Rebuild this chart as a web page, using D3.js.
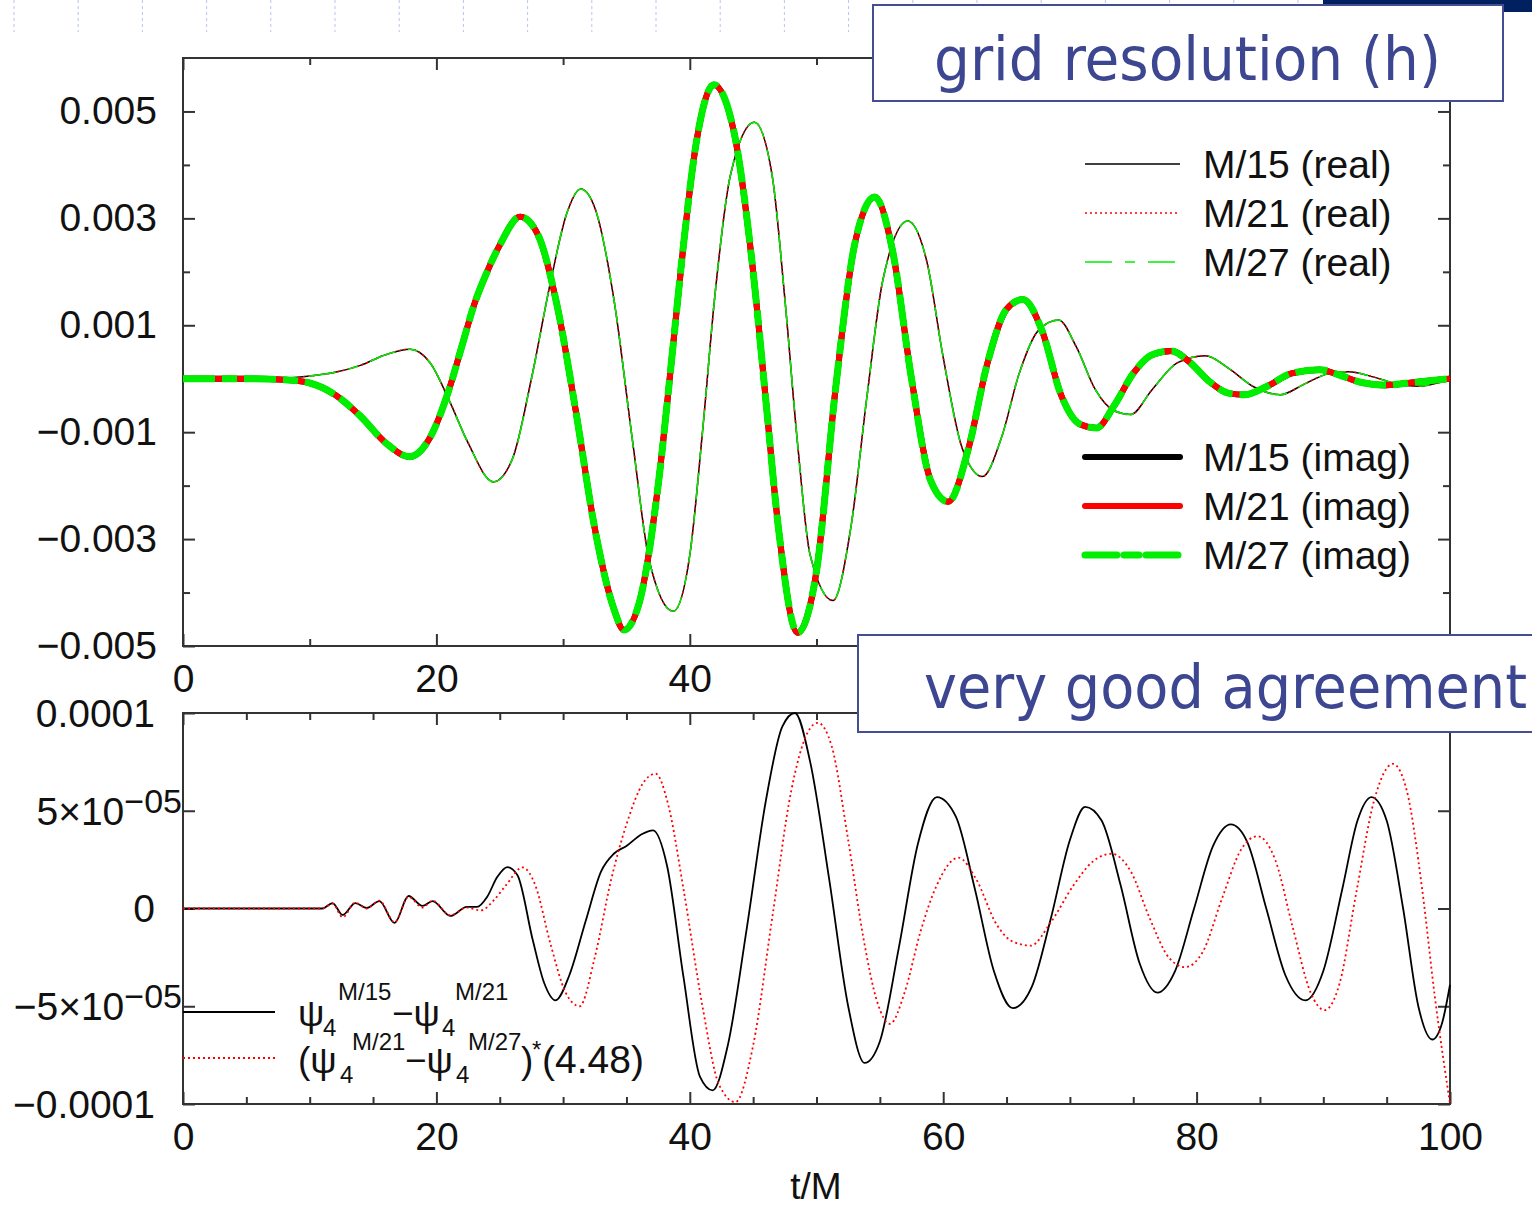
<!DOCTYPE html>
<html>
<head>
<meta charset="utf-8">
<script src="https://cdn.jsdelivr.net/npm/d3@7"></script>
<style>
  html, body { margin: 0; padding: 0; background: #fff; }
  svg { display: block; font-family: "Liberation Sans", Arial, sans-serif; }
  .tick line { stroke: #333; stroke-width: 2; }
  .tick text { fill: #111; font-size: 39px; }
</style>
</head>
<body>
<div id="chart"></div>
<script>
// top panel: psi4 for three resolutions, [t/M, value in units of 1e-3]
const imagM15 = [[0,0],[5,0],[8,-0.02],[10,-0.08],[12,-0.3],[14,-0.7],[16,-1.2],[17.9,-1.46],[19.5,-1.1],[21,-0.2],[22,0.6],[23,1.4],[24,2.0],[25,2.5],[26.6,3.03],[28,2.7],[29.5,1.4],[31,-0.6],[32.5,-2.8],[34,-4.3],[34.8,-4.7],[36,-4.2],[37.5,-2.0],[38.5,0.2],[39.5,2.5],[40.5,4.4],[41.9,5.5],[43.5,4.6],[45,2.0],[46,-0.4],[47,-2.8],[48.5,-4.75],[50,-3.6],[51.5,-0.2],[53,2.5],[54.6,3.4],[56,2.4],[57.5,0.0],[59,-1.9],[60.4,-2.3],[62,-1.3],[63.5,0.3],[65,1.3],[66.3,1.48],[67.8,0.9],[69.3,-0.3],[70.8,-0.85],[72.1,-0.92],[73.5,-0.5],[75,0.1],[76.5,0.45],[78,0.52],[79.5,0.3],[81,-0.05],[82.5,-0.27],[83.8,-0.3],[85.5,-0.15],[87.5,0.1],[89.7,0.17],[91.5,0.05],[93,-0.07],[95,-0.12],[97,-0.07],[100,0.0]];
const realM15 = [[0,0],[8,0.01],[10,0.05],[12,0.12],[14,0.25],[16,0.45],[17.9,0.55],[19.5,0.3],[21,-0.4],[22.5,-1.2],[24.5,-1.93],[26,-1.5],[27.5,0],[29,1.8],[30.3,3.1],[31.4,3.55],[32.5,3.2],[34,1.5],[35.5,-1.2],[36.8,-3.4],[38.7,-4.35],[40,-3.3],[41,-1.0],[42,1.6],[43.2,3.8],[45.1,4.8],[46.5,3.8],[47.5,1.5],[48.5,-1.2],[49.5,-3.3],[51.3,-4.15],[52.7,-2.8],[54,-0.3],[55.2,1.8],[57.2,2.95],[58.7,2.2],[60,0.4],[61.5,-1.3],[63.1,-1.83],[64.6,-1.1],[66,0.1],[67.5,0.9],[69.1,1.1],[70.5,0.6],[72,-0.2],[73.5,-0.6],[74.8,-0.67],[76.5,-0.2],[78.5,0.3],[80.7,0.43],[82.5,0.2],[84.5,-0.15],[86.6,-0.3],[88.5,-0.1],[90.5,0.1],[92,0.13],[94,0.03],[95.5,-0.08],[97.6,-0.14],[99,-0.08],[100,-0.03]];
// the finer grids lie on top of M/15 at this scale
const imagM21 = imagM15, imagM27 = imagM15;
const realM21 = realM15, realM27 = realM15;

// bottom panel: differences, [t/M, value in units of 1e-5]
const diff15_21 = [[0,0],[11,0],[11.8,0.28],[12.6,-0.33],[13.6,0.28],[14.5,0.03],[15.5,0.38],[16.7,-0.74],[17.8,0.64],[18.9,0.13],[19.7,0.38],[21.1,-0.38],[22.4,0.08],[23.2,0.08],[24,0.59],[24.8,1.61],[25.6,2.12],[26.4,1.7],[27.6,-1.6],[28.5,-3.8],[29.4,-4.7],[30.5,-3.4],[31.8,-0.6],[33,1.9],[34,2.8],[35,3.2],[36.2,3.8],[37.1,4.0],[38.2,2.2],[39.5,-3.5],[40.8,-8.6],[41.8,-9.3],[43,-7.0],[44.5,-1],[46,5.5],[47.3,9.3],[48.3,10],[49.5,7.5],[51,1.5],[52.5,-5.0],[53.8,-7.9],[55,-6.8],[56.5,-2.0],[58,3.3],[59.5,5.7],[61,4.7],[62.5,1],[64,-3.2],[65.5,-5.1],[67,-4.0],[68.5,-0.5],[70,3.5],[71.2,5.2],[72.5,4.5],[74,1.2],[75.5,-2.8],[76.9,-4.3],[78.3,-3.2],[79.8,0],[81.3,3.2],[82.7,4.3],[84,3.4],[85.5,0],[87,-3.4],[88.6,-4.7],[90,-3.2],[91.5,1],[92.7,4.5],[93.8,5.7],[95,4.5],[96.3,0],[97.5,-5.0],[98.6,-6.7],[99.4,-5.8],[100,-3.9]];
const diff21_27 = [[0,0],[11,0],[11.8,0.25],[12.6,-0.45],[13.6,0.3],[14.5,0.0],[15.5,0.4],[16.7,-0.7],[17.8,0.6],[18.9,0.05],[19.7,0.4],[21.1,-0.35],[22.4,0.05],[23.5,-0.1],[24.5,0.4],[25.5,1.2],[26.8,2.1],[27.8,1.2],[29,-1.8],[30.2,-4.3],[31.3,-5.0],[32.5,-2.5],[33.8,1.5],[35,4.3],[36.3,6.4],[37.3,6.9],[38.3,5.3],[39.5,1.0],[41,-5],[42.3,-9],[43.6,-9.9],[45,-7],[46.5,-0.5],[48,6],[49.3,9],[50.1,9.5],[51.2,8.3],[52.5,3.5],[53.7,-1.5],[54.8,-4.8],[55.8,-5.9],[57,-4.2],[58.2,-1.2],[59.5,1.2],[61.2,2.6],[62.6,1.5],[64.2,-0.8],[65.5,-1.7],[66.9,-1.9],[68.5,-0.7],[70.3,1.2],[71.8,2.4],[73.3,2.8],[74.8,1.9],[76.3,-0.5],[77.8,-2.5],[79.1,-3.0],[80.5,-2.2],[82,0.5],[83.5,3.0],[84.8,3.7],[86.2,2.5],[87.6,-1],[89,-4.3],[90.1,-5.2],[91.3,-3.8],[92.6,0.8],[94,5.5],[95.5,7.4],[96.6,6.0],[97.8,1.0],[98.8,-4.5],[100,-10]];

const xTicksMajor = [0, 20, 40, 60, 80, 100];
const topXLabelled = [0, 20, 40];          // 60..100 sit under the callout box
const topYLabels = [-0.005, -0.003, -0.001, 0.001, 0.003, 0.005];
const topYMinor = [-0.004, -0.002, 0, 0.002, 0.004];
const botYTicks = [-1e-4, -5e-5, 0, 5e-5, 1e-4];

const W = 1532, H = 1206;
const svg = d3.select("#chart").append("svg").attr("width", W).attr("height", H);

// faint dashed slide guides along the top edge
svg.append("g").selectAll("line")
  .data(d3.range(14, 1330, 64.2))
  .enter().append("line")
  .attr("x1", d => d).attr("x2", d => d)
  .attr("y1", 0).attr("y2", 32)
  .attr("stroke", "#b9c3f3").attr("stroke-width", 1)
  .attr("stroke-dasharray", "3,3");

const x = d3.scaleLinear().domain([0, 100]).range([183, 1450]);
const yTop = d3.scaleLinear().domain([-0.005, 0.006]).range([646, 58]);
const yBot = d3.scaleLinear().domain([-1e-4, 1e-4]).range([1104, 713]);

function frame(y) {
  const [y0, y1] = y.range();
  svg.append("rect")
    .attr("x", x(0)).attr("y", y1)
    .attr("width", x(100) - x(0)).attr("height", y0 - y1)
    .attr("fill", "none").attr("stroke", "#333").attr("stroke-width", 2);
}

function ticks(g, axis) {
  g.call(axis);
  g.select(".domain").remove();
}

// ---- top panel ----
frame(yTop);
ticks(svg.append("g").attr("transform", `translate(0,${yTop(-0.005)})`),
  d3.axisBottom(x).tickValues(topXLabelled).tickSize(-12).tickPadding(18).tickFormat(d3.format("d")));
ticks(svg.append("g").attr("transform", `translate(0,${yTop(-0.005)})`),
  d3.axisBottom(x).tickValues([60, 80, 100]).tickSize(-12).tickFormat(""));
ticks(svg.append("g").attr("transform", `translate(0,${yTop(-0.005)})`),
  d3.axisBottom(x).tickValues([10, 30, 50, 70, 90]).tickSize(-7).tickFormat(""));
ticks(svg.append("g").attr("transform", `translate(0,${yTop(0.006)})`),
  d3.axisTop(x).tickValues(xTicksMajor).tickSize(-12).tickFormat(""));
ticks(svg.append("g").attr("transform", `translate(0,${yTop(0.006)})`),
  d3.axisTop(x).tickValues([10, 30, 50, 70, 90]).tickSize(-7).tickFormat(""));
ticks(svg.append("g").attr("transform", `translate(${x(0)},0)`),
  d3.axisLeft(yTop).tickValues(topYLabels).tickSize(-12).tickPadding(26)
    .tickFormat(d => d3.format(".3f")(d).replace("-", "\u2212")));
ticks(svg.append("g").attr("transform", `translate(${x(0)},0)`),
  d3.axisLeft(yTop).tickValues(topYMinor).tickSize(-7).tickFormat(""));
ticks(svg.append("g").attr("transform", `translate(${x(100)},0)`),
  d3.axisRight(yTop).tickValues(topYLabels).tickSize(-12).tickFormat(""));
ticks(svg.append("g").attr("transform", `translate(${x(100)},0)`),
  d3.axisRight(yTop).tickValues(topYMinor).tickSize(-7).tickFormat(""));

const lineTop = d3.line().x(d => x(d[0])).y(d => yTop(d[1] * 1e-3)).curve(d3.curveMonotoneX);
const lineBot = d3.line().x(d => x(d[0])).y(d => yBot(d[1] * 1e-5)).curve(d3.curveMonotoneX);

const topSeries = [
  { data: realM15, color: "#000", width: 1.5, dash: null },
  { data: realM21, color: "#ff0000", width: 1.5, dash: "2,3" },
  { data: realM27, color: "#00ee00", width: 1.5, dash: "27,13,10,13" },
  { data: imagM15, color: "#000", width: 6, dash: null },
  { data: imagM21, color: "#ff0000", width: 6, dash: null },
  { data: imagM27, color: "#00ee00", width: 7, dash: "32,7,15,7" }
];
topSeries.forEach(s => {
  svg.append("path").datum(s.data)
    .attr("d", lineTop)
    .attr("fill", "none")
    .attr("stroke", s.color)
    .attr("stroke-width", s.width)
    .attr("stroke-dasharray", s.dash)
    .attr("stroke-linejoin", "round");
});

// legend, top panel
const legTop = [
  { y: 164, label: "M/15 (real)", s: topSeries[0] },
  { y: 213, label: "M/21 (real)", s: topSeries[1] },
  { y: 262, label: "M/27 (real)", s: topSeries[2] },
  { y: 457, label: "M/15 (imag)", s: topSeries[3] },
  { y: 506, label: "M/21 (imag)", s: topSeries[4] },
  { y: 555, label: "M/27 (imag)", s: topSeries[5] }
];
legTop.forEach(l => {
  svg.append("line")
    .attr("x1", 1085).attr("x2", 1180).attr("y1", l.y).attr("y2", l.y)
    .attr("stroke", l.s.color).attr("stroke-width", l.s.width)
    .attr("stroke-dasharray", l.s.dash)
    .attr("stroke-linecap", l.s.width > 3 ? "round" : "butt");
  svg.append("text")
    .attr("x", 1203).attr("y", l.y).attr("dy", "0.35em")
    .attr("font-size", 39).attr("fill", "#111")
    .text(l.label);
});

// ---- bottom panel ----
frame(yBot);
const minorBot = d3.range(5, 100, 5).filter(d => d % 20 !== 0);
ticks(svg.append("g").attr("transform", `translate(0,${yBot(-1e-4)})`),
  d3.axisBottom(x).tickValues(xTicksMajor).tickSize(-12).tickPadding(18).tickFormat(d3.format("d")));
ticks(svg.append("g").attr("transform", `translate(0,${yBot(-1e-4)})`),
  d3.axisBottom(x).tickValues(minorBot).tickSize(-7).tickFormat(""));
ticks(svg.append("g").attr("transform", `translate(0,${yBot(1e-4)})`),
  d3.axisTop(x).tickValues(xTicksMajor).tickSize(-12).tickFormat(""));
ticks(svg.append("g").attr("transform", `translate(0,${yBot(1e-4)})`),
  d3.axisTop(x).tickValues(minorBot).tickSize(-7).tickFormat(""));
ticks(svg.append("g").attr("transform", `translate(${x(0)},0)`),
  d3.axisLeft(yBot).tickValues(botYTicks).tickSize(-12).tickFormat(""));
ticks(svg.append("g").attr("transform", `translate(${x(100)},0)`),
  d3.axisRight(yBot).tickValues(botYTicks).tickSize(-12).tickFormat(""));
svg.selectAll(".tick text").attr("fill", "#111");

// bottom y labels with exponents
const botLab = svg.append("g").attr("font-size", 39).attr("fill", "#111").attr("text-anchor", "end");
[[1e-4, "0.0001"], [0, "0"], [-1e-4, "\u22120.0001"]].forEach(([v, t]) => {
  botLab.append("text").attr("x", 155).attr("y", yBot(v)).attr("dy", "0.35em").text(t);
});
[[5e-5, "5\u00d710"], [-5e-5, "\u22125\u00d710"]].forEach(([v, t]) => {
  const tx = botLab.append("text").attr("x", 182).attr("y", yBot(v) + 14);
  tx.append("tspan").text(t);
  tx.append("tspan").attr("dy", -12).attr("font-size", 34).text("\u221205");
});

svg.append("text")
  .attr("x", 816).attr("y", 1199)
  .attr("text-anchor", "middle").attr("font-size", 37).attr("fill", "#111")
  .text("t/M");

const botSeries = [
  { data: diff15_21, color: "#000", width: 1.8, dash: null },
  { data: diff21_27, color: "#ff0000", width: 1.8, dash: "2,3" }
];
botSeries.forEach(s => {
  svg.append("path").datum(s.data)
    .attr("d", lineBot)
    .attr("fill", "none")
    .attr("stroke", s.color)
    .attr("stroke-width", s.width)
    .attr("stroke-dasharray", s.dash);
});

// legend, bottom panel
svg.append("line").attr("x1", 183).attr("x2", 275).attr("y1", 1012).attr("y2", 1012)
  .attr("stroke", "#000").attr("stroke-width", 1.8);
svg.append("line").attr("x1", 183).attr("x2", 275).attr("y1", 1058).attr("y2", 1058)
  .attr("stroke", "#ff0000").attr("stroke-width", 1.8).attr("stroke-dasharray", "2,3");

const lg = svg.append("g").attr("fill", "#111");
function piece(xp, yp, size, txt) {
  lg.append("text").attr("x", xp).attr("y", yp).attr("font-size", size).text(txt);
}
// psi4^{M/15} - psi4^{M/21}
piece(298, 1026, 37, "\u03c8");
piece(323, 1036, 24, "4");
piece(338, 1000, 24, "M/15");
piece(392, 1026, 37, "\u2212\u03c8");
piece(442, 1036, 24, "4");
piece(455, 1000, 24, "M/21");
// (psi4^{M/21} - psi4^{M/27})*(4.48)
piece(298, 1073, 37, "(\u03c8");
piece(340, 1083, 24, "4");
piece(352, 1050, 24, "M/21");
piece(405, 1073, 37, "\u2212\u03c8");
piece(456, 1083, 24, "4");
piece(468, 1050, 24, "M/27");
piece(521, 1073, 37, ")");
piece(532, 1058, 24, "*");
piece(542, 1073, 39, "(4.48)");

// ---- slide callouts ----
svg.append("rect").attr("x", 1323).attr("y", 0).attr("width", 209).attr("height", 12).attr("fill", "#002060");

function callout(bx, by, bw, bh, tx, ty, tw, txt) {
  svg.append("rect").attr("x", bx).attr("y", by).attr("width", bw).attr("height", bh)
    .attr("fill", "#fff").attr("stroke", "#454d93").attr("stroke-width", 2);
  svg.append("text").attr("x", tx).attr("y", ty)
    .attr("font-family", "'DejaVu Sans Condensed', 'DejaVu Sans', sans-serif")
    .attr("font-size", 60).attr("fill", "#3d4690")
    .attr("textLength", tw).attr("lengthAdjust", "spacingAndGlyphs")
    .text(txt);
}
callout(873, 5, 630, 96, 934, 80, 507, "grid resolution (h)");
callout(858, 635, 690, 97, 924, 708, 603, "very good agreement");
</script>
</body>
</html>
